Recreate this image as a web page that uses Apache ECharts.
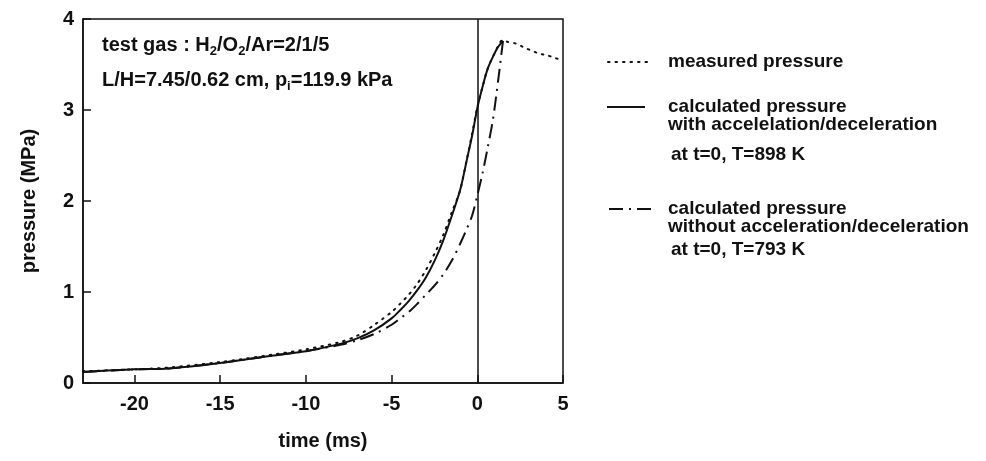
<!DOCTYPE html>
<html>
<head>
<meta charset="utf-8">
<script src="https://cdn.jsdelivr.net/npm/echarts@6/dist/echarts.min.js"></script>
<style>
html,body{margin:0;padding:0;background:#fff;}
#chart{width:986px;height:461px;}
</style>
</head>
<body>
<div id="chart"></div>
<script>
// time (ms) and pressure (MPa)
var timeMeasured = [-23,-20,-18,-15,-12,-10,-8,-7,-6,-5,-4.5,-4,-3.5,-3,-2.5,-2,-1.5,-1,-0.6,-0.3,0,0.3,0.6,1.0,1.5,1.75,2.25,2.7,3.2,3.6,4.1,4.55,5];
var pressureMeasured = [0.13,0.15,0.17,0.23,0.31,0.37,0.45,0.52,0.64,0.78,0.87,0.97,1.09,1.24,1.42,1.62,1.87,2.12,2.47,2.74,3.03,3.25,3.45,3.62,3.77,3.75,3.73,3.69,3.65,3.62,3.60,3.57,3.55];

var timeWithAccel = [-23,-20,-18,-15,-12,-10,-8,-7,-6,-5,-4.5,-4,-3.5,-3,-2.5,-2,-1.5,-1,-0.6,-0.3,0,0.3,0.6,0.95,1.2,1.5];
var pressureWithAccel = [0.12,0.15,0.16,0.22,0.30,0.35,0.43,0.49,0.58,0.71,0.80,0.90,1.02,1.16,1.34,1.56,1.83,2.12,2.46,2.72,3.02,3.25,3.45,3.60,3.69,3.76];

var timeWithoutAccel = [-23,-20,-18,-15,-12,-10,-8,-7,-6,-5,-4.5,-4,-3.5,-3,-2.5,-2,-1.5,-1,-0.6,-0.3,0,0.3,0.6,0.9,1.1,1.3,1.5];
var pressureWithoutAccel = [0.12,0.15,0.16,0.22,0.30,0.35,0.42,0.47,0.54,0.64,0.71,0.78,0.87,0.97,1.07,1.19,1.34,1.53,1.70,1.84,2.06,2.30,2.58,2.88,3.15,3.45,3.76];

var xTickValues = [-20,-15,-10,-5,0,5];
var yTickValues = [0,1,2,3,4];
var markerTime = [0];

var legendLines = [
  ['measured pressure'],
  ['calculated pressure','with accelelation/deceleration','at t=0, T=898 K'],
  ['calculated pressure','without acceleration/deceleration','at t=0, T=793 K']
];

function pairs(xs, ys){ return xs.map(function(x,i){ return [x, ys[i]]; }); }

var FONT = '"Liberation Sans", Arial, sans-serif';
var FS = 20;
var LFS = 19;
var chart = echarts.init(document.getElementById('chart'), null, {renderer:'canvas'});

function txt(x, cy, s){
  return {type:'text', left:x, top:cy - LFS/2, style:{text:s, font:'bold '+LFS+'px '+FONT, fill:'#111'}};
}
var richStyles = {
  n:{fontFamily:FONT, fontWeight:'bold', fontSize:FS, lineHeight:26, fill:'#111'},
  s:{fontFamily:FONT, fontWeight:'bold', fontSize:13, lineHeight:13, verticalAlign:'bottom', fill:'#111'}
};

var option = {
  backgroundColor:'#fff',
  animation:false,
  grid:{left:83, right:423, top:19, bottom:78, show:true, borderColor:'#111', borderWidth:1.5, containLabel:false},
  xAxis:{
    type:'value', min:-23, max:5,
    name:'time (ms)', nameLocation:'middle', nameGap:48,
    nameTextStyle:{fontFamily:FONT, fontWeight:'bold', fontSize:FS, color:'#111'},
    axisLine:{show:true, onZero:false, lineStyle:{color:'#111', width:1.5}},
    axisTick:{show:true, inside:true, length:8, lineStyle:{color:'#111', width:1.5}, customValues:xTickValues},
    axisLabel:{fontFamily:FONT, fontWeight:'bold', fontSize:FS, color:'#111', margin:11, customValues:xTickValues},
    splitLine:{show:false}
  },
  yAxis:{
    type:'value', min:0, max:4, interval:1,
    name:'pressure (MPa)', nameLocation:'middle', nameGap:44, nameRotate:90,
    nameTextStyle:{fontFamily:FONT, fontWeight:'bold', fontSize:FS, color:'#111'},
    axisLine:{show:true, onZero:false, lineStyle:{color:'#111', width:1.5}},
    axisTick:{show:true, inside:true, length:8, lineStyle:{color:'#111', width:1.5}},
    axisLabel:{fontFamily:FONT, fontWeight:'bold', fontSize:FS, color:'#111', margin:9,
      formatter:function(v){ return yTickValues.indexOf(v) >= 0 ? String(v) : ''; }},
    splitLine:{show:false}
  },
  series:[
    {name:'measured pressure', type:'line', data:pairs(timeMeasured, pressureMeasured), showSymbol:false, smooth:0.3,
      lineStyle:{color:'#111', width:2, type:[1.5,6], cap:'round'}, z:3},
    {name:'with', type:'line', data:pairs(timeWithAccel, pressureWithAccel), showSymbol:false, smooth:0.3,
      lineStyle:{color:'#111', width:2}, z:4,
      markLine:{silent:true, symbol:'none', label:{show:false}, lineStyle:{color:'#111', width:1.5, type:'solid'},
        data: markerTime.map(function(t){ return {xAxis:t}; })}},
    {name:'without', type:'line', data:pairs(timeWithoutAccel, pressureWithoutAccel), showSymbol:false, smooth:0.3,
      lineStyle:{color:'#111', width:2, type:[14,6,2,6]}, z:4}
  ],
  graphic:[
    {type:'text', left:102, top:35, style:{text:'{n|test gas : H}{s|2}{n|/O}{s|2}{n|/Ar=2/1/5}', rich:richStyles}},
    {type:'text', left:102, top:70, style:{text:'{n|L/H=7.45/0.62 cm, p}{s|i}{n|=119.9 kPa}', rich:richStyles}},
    // legend samples
    {type:'line', shape:{x1:608,y1:62,x2:650,y2:62}, style:{stroke:'#111', lineWidth:2, lineDash:[1.5,6], lineCap:'round'}},
    {type:'line', shape:{x1:607,y1:107,x2:645,y2:107}, style:{stroke:'#111', lineWidth:2}},
    {type:'line', shape:{x1:609,y1:209,x2:652,y2:209}, style:{stroke:'#111', lineWidth:2, lineDash:[14,6,2,6]}},
    txt(668, 62, legendLines[0][0]),
    txt(668, 107, legendLines[1][0]),
    txt(668, 125, legendLines[1][1]),
    txt(671, 155, legendLines[1][2]),
    txt(668, 209, legendLines[2][0]),
    txt(668, 227, legendLines[2][1]),
    txt(671, 250, legendLines[2][2])
  ]
};
chart.setOption(option);
</script>
</body>
</html>
